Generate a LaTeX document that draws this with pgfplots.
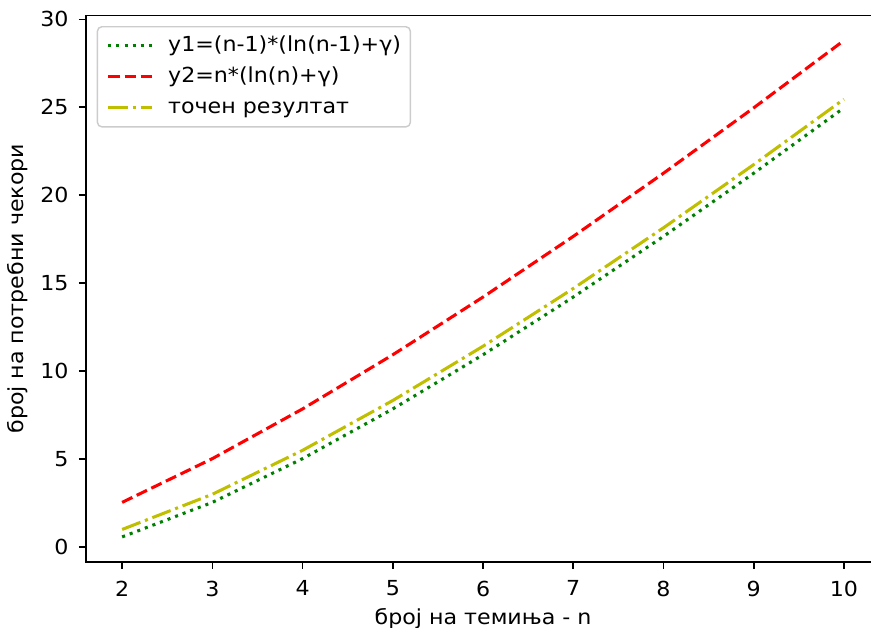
\documentclass[border=0pt]{standalone}
\usepackage{fontspec}
\setmainfont{DejaVu Sans}[FakeStretch=1.07]
\usepackage{pgfplots}
\pgfplotsset{compat=1.18}

\definecolor{mplgreen}{rgb}{0,0.5,0}
\definecolor{mplred}{rgb}{1,0,0}
\definecolor{mplyellow}{rgb}{0.75,0.75,0}

\begin{document}
\begin{tikzpicture}
\begin{axis}[
    scale only axis,
    width=441pt,
    height=303.3pt,
    xmin=1.6, xmax=10.4,
    ymin=-0.834, ymax=30.21,
    xtick={2,3,...,10},
    ytick={0,5,...,30},
    tick pos=left,
    tick align=outside,
    major tick length=4pt,
    tick style={black, line width=0.9pt},
    axis line style={line width=0.9pt},
    /pgf/number format/assume math mode=true,
    ticklabel style={font=\fontsize{11.5}{13.8}\selectfont},
    xticklabel style={yshift=-3pt},
    yticklabel style={xshift=-2.2pt},
    label style={font=\fontsize{11.5}{13.8}\selectfont},
    xlabel={број на темиња - n},
    ylabel={број на потребни чекори},
    legend cell align=left,
    legend image code/.code={\draw[#1] (0pt,0pt) -- (24.4pt,0pt);},
    legend style={at={(0.0134,0.981)}, anchor=north west,
        draw=black!20, line width=0.8pt, rounded corners=2.5pt, fill=white,
        fill opacity=0.8, text opacity=1,
        font=\fontsize{11.5}{13.8}\selectfont,
        inner xsep=5.2pt, inner ysep=4.6pt, row sep=5.2pt, column sep=8pt,
        nodes={inner xsep=0pt, inner ysep=0pt, text height=9pt, text depth=3pt}},
]
\addplot[color=mplgreen, line width=1.7pt, dash pattern=on 1.7pt off 2.8pt] coordinates {
  (2,0.577) (3,2.541) (4,5.027) (5,7.854) (6,10.933) (7,14.214) (8,17.662) (9,21.253) (10,24.970)};
\addlegendentry{y1=(n-1)*(ln(n-1)+γ)}
\addplot[color=mplred, line width=1.7pt, dash pattern=on 6.3pt off 2.7pt] coordinates {
  (2,2.541) (3,5.027) (4,7.854) (5,10.933) (6,14.214) (7,17.662) (8,21.253) (9,24.970) (10,28.798)};
\addlegendentry{y2=n*(ln(n)+γ)}
\addplot[color=mplyellow, line width=1.7pt, dash pattern=on 10.9pt off 2.7pt on 1.7pt off 2.7pt] coordinates {
  (2,1.000) (3,3.000) (4,5.500) (5,8.333) (6,11.417) (7,14.700) (8,18.150) (9,21.743) (10,25.461)};
\addlegendentry{точен резултат}
\coordinate (BL) at (rel axis cs:0,0);
\coordinate (TRc) at (axis cs:10.3,30.21);
\end{axis}
\pgfresetboundingbox
\path[use as bounding box] ([xshift=-47.8pt,yshift=-36.3pt]BL) rectangle ([yshift=8.7pt]TRc);
\end{tikzpicture}
\end{document}
